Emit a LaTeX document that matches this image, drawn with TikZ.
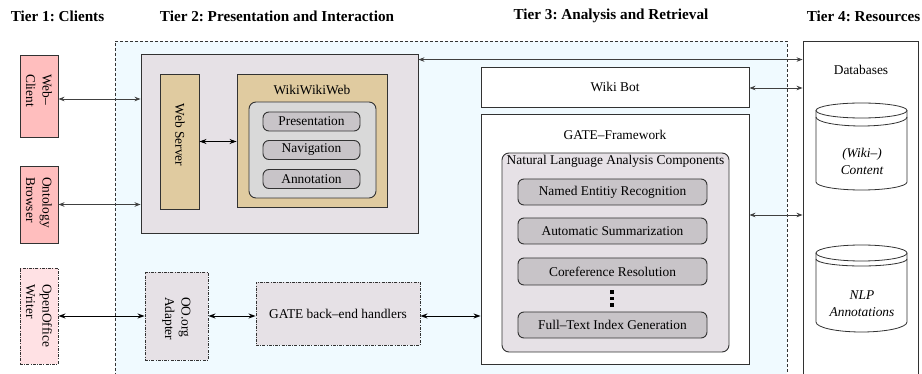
\documentclass[tikz,border=0pt]{standalone}
\usepackage{fontspec}
\setmainfont{Liberation Serif}
\usetikzlibrary{arrows.meta,calc}
\frenchspacing
\definecolor{clientpink}{RGB}{255,190,190}
\definecolor{clientlight}{RGB}{255,225,228}
\definecolor{bgblue}{RGB}{240,250,255}
\definecolor{lavgrey}{RGB}{230,225,230}
\definecolor{tan}{RGB}{224,203,160}
\definecolor{lightgrey}{RGB}{217,217,217}
\definecolor{btngrey}{RGB}{200,196,200}
\definecolor{edge}{RGB}{50,50,50}
\tikzset{
  txt/.style={font=\fontsize{13.4}{16.5}\selectfont, inner sep=0pt, align=center},
  rtxt/.style={font=\fontsize{13.4}{16.5}\selectfont, inner sep=0pt, align=left, rotate=-90, anchor=west},
  tier/.style={font=\fontsize{15.2}{18}\selectfont\bfseries, inner sep=0pt},
  box/.style={draw=edge, line width=0.9pt, inner sep=0pt, txt},
  clientbox/.style={box, fill=clientpink},
  btn/.style={box, fill=btngrey, rounded corners=6pt},
  dashdotbox/.style={box, dash pattern=on 3pt off 1.2pt on 1pt off 1.2pt},
  arr/.style={{Stealth[length=6pt,width=4.5pt]}-{Stealth[length=6pt,width=4.5pt]}, line width=0.8pt, draw=black!75},
  arrk/.style={{Stealth[length=7pt,width=5pt]}-{Stealth[length=7pt,width=5pt]}, line width=0.9pt, draw=black},
  cyl/.style={fill=white, draw=edge, line width=0.8pt},
}
\begin{document}
\begin{tikzpicture}[x=1pt,y=-1pt]
\useasboundingbox (0,0) rectangle (922,374);
% tier labels
\node[tier] (t1l) at (57.5,16) {Tier 1: Clients};
\node[tier] (t2l) at (277,16) {Tier 2: Presentation and Interaction};
\node[tier] (t3l) at (611,16) {Tier 3: Analysis and Retrieval};
\node[tier] (t4l) at (863.5,16) {Tier 4: Resources};
% background
\node[draw=black!80, fill=bgblue, line width=0.8pt, dash pattern=on 3pt off 2pt, minimum width=672pt, minimum height=359pt, inner sep=0pt] (bg) at (451,220.5) {};
% databases
\node[box, fill=white, minimum width=115pt, minimum height=349pt] (db) at (860.5,215.5) {};
\node[txt] (dbt) at (861,70) {Databases};
% clients
\node[clientbox, minimum width=38pt, minimum height=82pt] (wc) at (39,96) {};
\node[rtxt] (wct) at (39,74) {Web--\\Client};
\node[clientbox, minimum width=38pt, minimum height=77pt] (ob) at (39,204.5) {};
\node[rtxt] (obt) at (39,177) {Ontology\\Browser};
\node[dashdotbox, fill=clientlight, minimum width=38pt, minimum height=96pt] (oo) at (39,316) {};
\node[rtxt] (oot) at (39,284) {OpenOffice\\Writer};
% tier 2
\node[box, fill=lavgrey, minimum width=277pt, minimum height=179pt] (t2) at (279.5,143.5) {};
\node[box, fill=tan, minimum width=39pt, minimum height=135pt] (ws) at (179.5,141.5) {};
\node[rtxt, anchor=center] (wst) at (180,135) {Web Server};
\node[box, fill=tan, minimum width=150pt, minimum height=133pt] (ww) at (312,140.5) {};
\node[txt] (wwt) at (312,90) {WikiWikiWeb};
\node[box, fill=lightgrey, rounded corners=7pt, minimum width=127pt, minimum height=96pt] (wi) at (312.5,150) {};
\node[btn, minimum width=97pt, minimum height=19pt] (pr) at (311.5,121.5) {Presentation};
\node[btn, minimum width=97pt, minimum height=19pt] (na) at (311.5,150) {Navigation};
\node[btn, minimum width=97pt, minimum height=19pt] (an) at (311.5,179) {Annotation};
\node[dashdotbox, fill=lavgrey, minimum width=63pt, minimum height=88pt] (ad) at (176.5,316) {};
\node[rtxt] (adt) at (176.5,297) {OO.org\\Adapter};
\node[dashdotbox, fill=lavgrey, minimum width=164pt, minimum height=63pt] (gb) at (338,313.5) {GATE back--end handlers};
% tier 3
\node[box, fill=white, minimum width=268pt, minimum height=40pt] (wb) at (615,87) {Wiki Bot};
\node[box, fill=white, minimum width=268pt, minimum height=250pt] (gf) at (615,239) {};
\node[txt] (gft) at (615,135) {GATE--Framework};
\node[box, fill=lavgrey, rounded corners=7pt, minimum width=227pt, minimum height=199pt] (nl) at (615.5,252.5) {};
\node[txt] (nlt) at (615.5,161) {Natural Language Analysis Components};
\node[btn, minimum width=189pt, minimum height=26pt] (ner) at (612.5,192) {Named Entitiy Recognition};
\node[btn, minimum width=189pt, minimum height=26pt] (as) at (612.5,231) {Automatic Summarization};
\node[btn, minimum width=189pt, minimum height=27pt] (cr) at (612.5,271.5) {Coreference Resolution};
\node[btn, minimum width=189pt, minimum height=26pt] (ft) at (612.5,325) {Full--Text Index Generation};
\foreach \yy/\nm in {292/d1,298.5/d2,305/d3}
  \node[fill=black, minimum size=3.2pt, inner sep=0pt] (\nm) at (612,\yy) {};
% cylinders
\draw[cyl] (816,110.5) -- (816,182) arc[start angle=180, end angle=0, x radius=45.5, y radius=8] -- (907,110.5);
\draw[cyl] (861.5,110.5) ellipse[x radius=45.5, y radius=7.5];
\draw[cyl, fill=none] (816,117) arc[start angle=180, end angle=0, x radius=45.5, y radius=9];
\node[txt, font=\fontsize{13.4}{16.5}\selectfont\itshape] (c1) at (862,161.5) {(Wiki--)\\Content};
\draw[cyl] (816,253) -- (816,322) arc[start angle=180, end angle=0, x radius=45.5, y radius=10] -- (907,253);
\draw[cyl] (861.5,253) ellipse[x radius=45.5, y radius=8];
\draw[cyl, fill=none] (816,259) arc[start angle=180, end angle=0, x radius=45.5, y radius=7];
\node[txt, font=\fontsize{13.4}{16.5}\selectfont\itshape] (c2) at (862,303.5) {NLP\\Annotations};
% connectors
\draw[arr] ([yshift=-3pt]wc.east) coordinate (a1) -- (a1 -| t2.west);
\draw[arr] (ob.east) -- (ob.east -| t2.west);
\draw[arrk] (ws.east) -- (ws.east -| ww.west);
\draw[arrk] (oo.east) -- (oo.east -| ad.west);
\draw[arrk] (ad.east) -- (ad.east -| gb.west);
\draw[arrk] ([yshift=-2.5pt]gb.east) coordinate (a2) -- (a2 -| gf.west);
\draw[arr] ([yshift=-6pt]t2.north east) coordinate (a3) -- (a3 -| db.west);
\draw[arr] ([yshift=-1pt]wb.east) coordinate (a4) -- (a4 -| db.west);
\draw[arr] ([yshift=24pt]gf.east) coordinate (a5) -- (a5 -| db.west);
\end{tikzpicture}
\end{document}
